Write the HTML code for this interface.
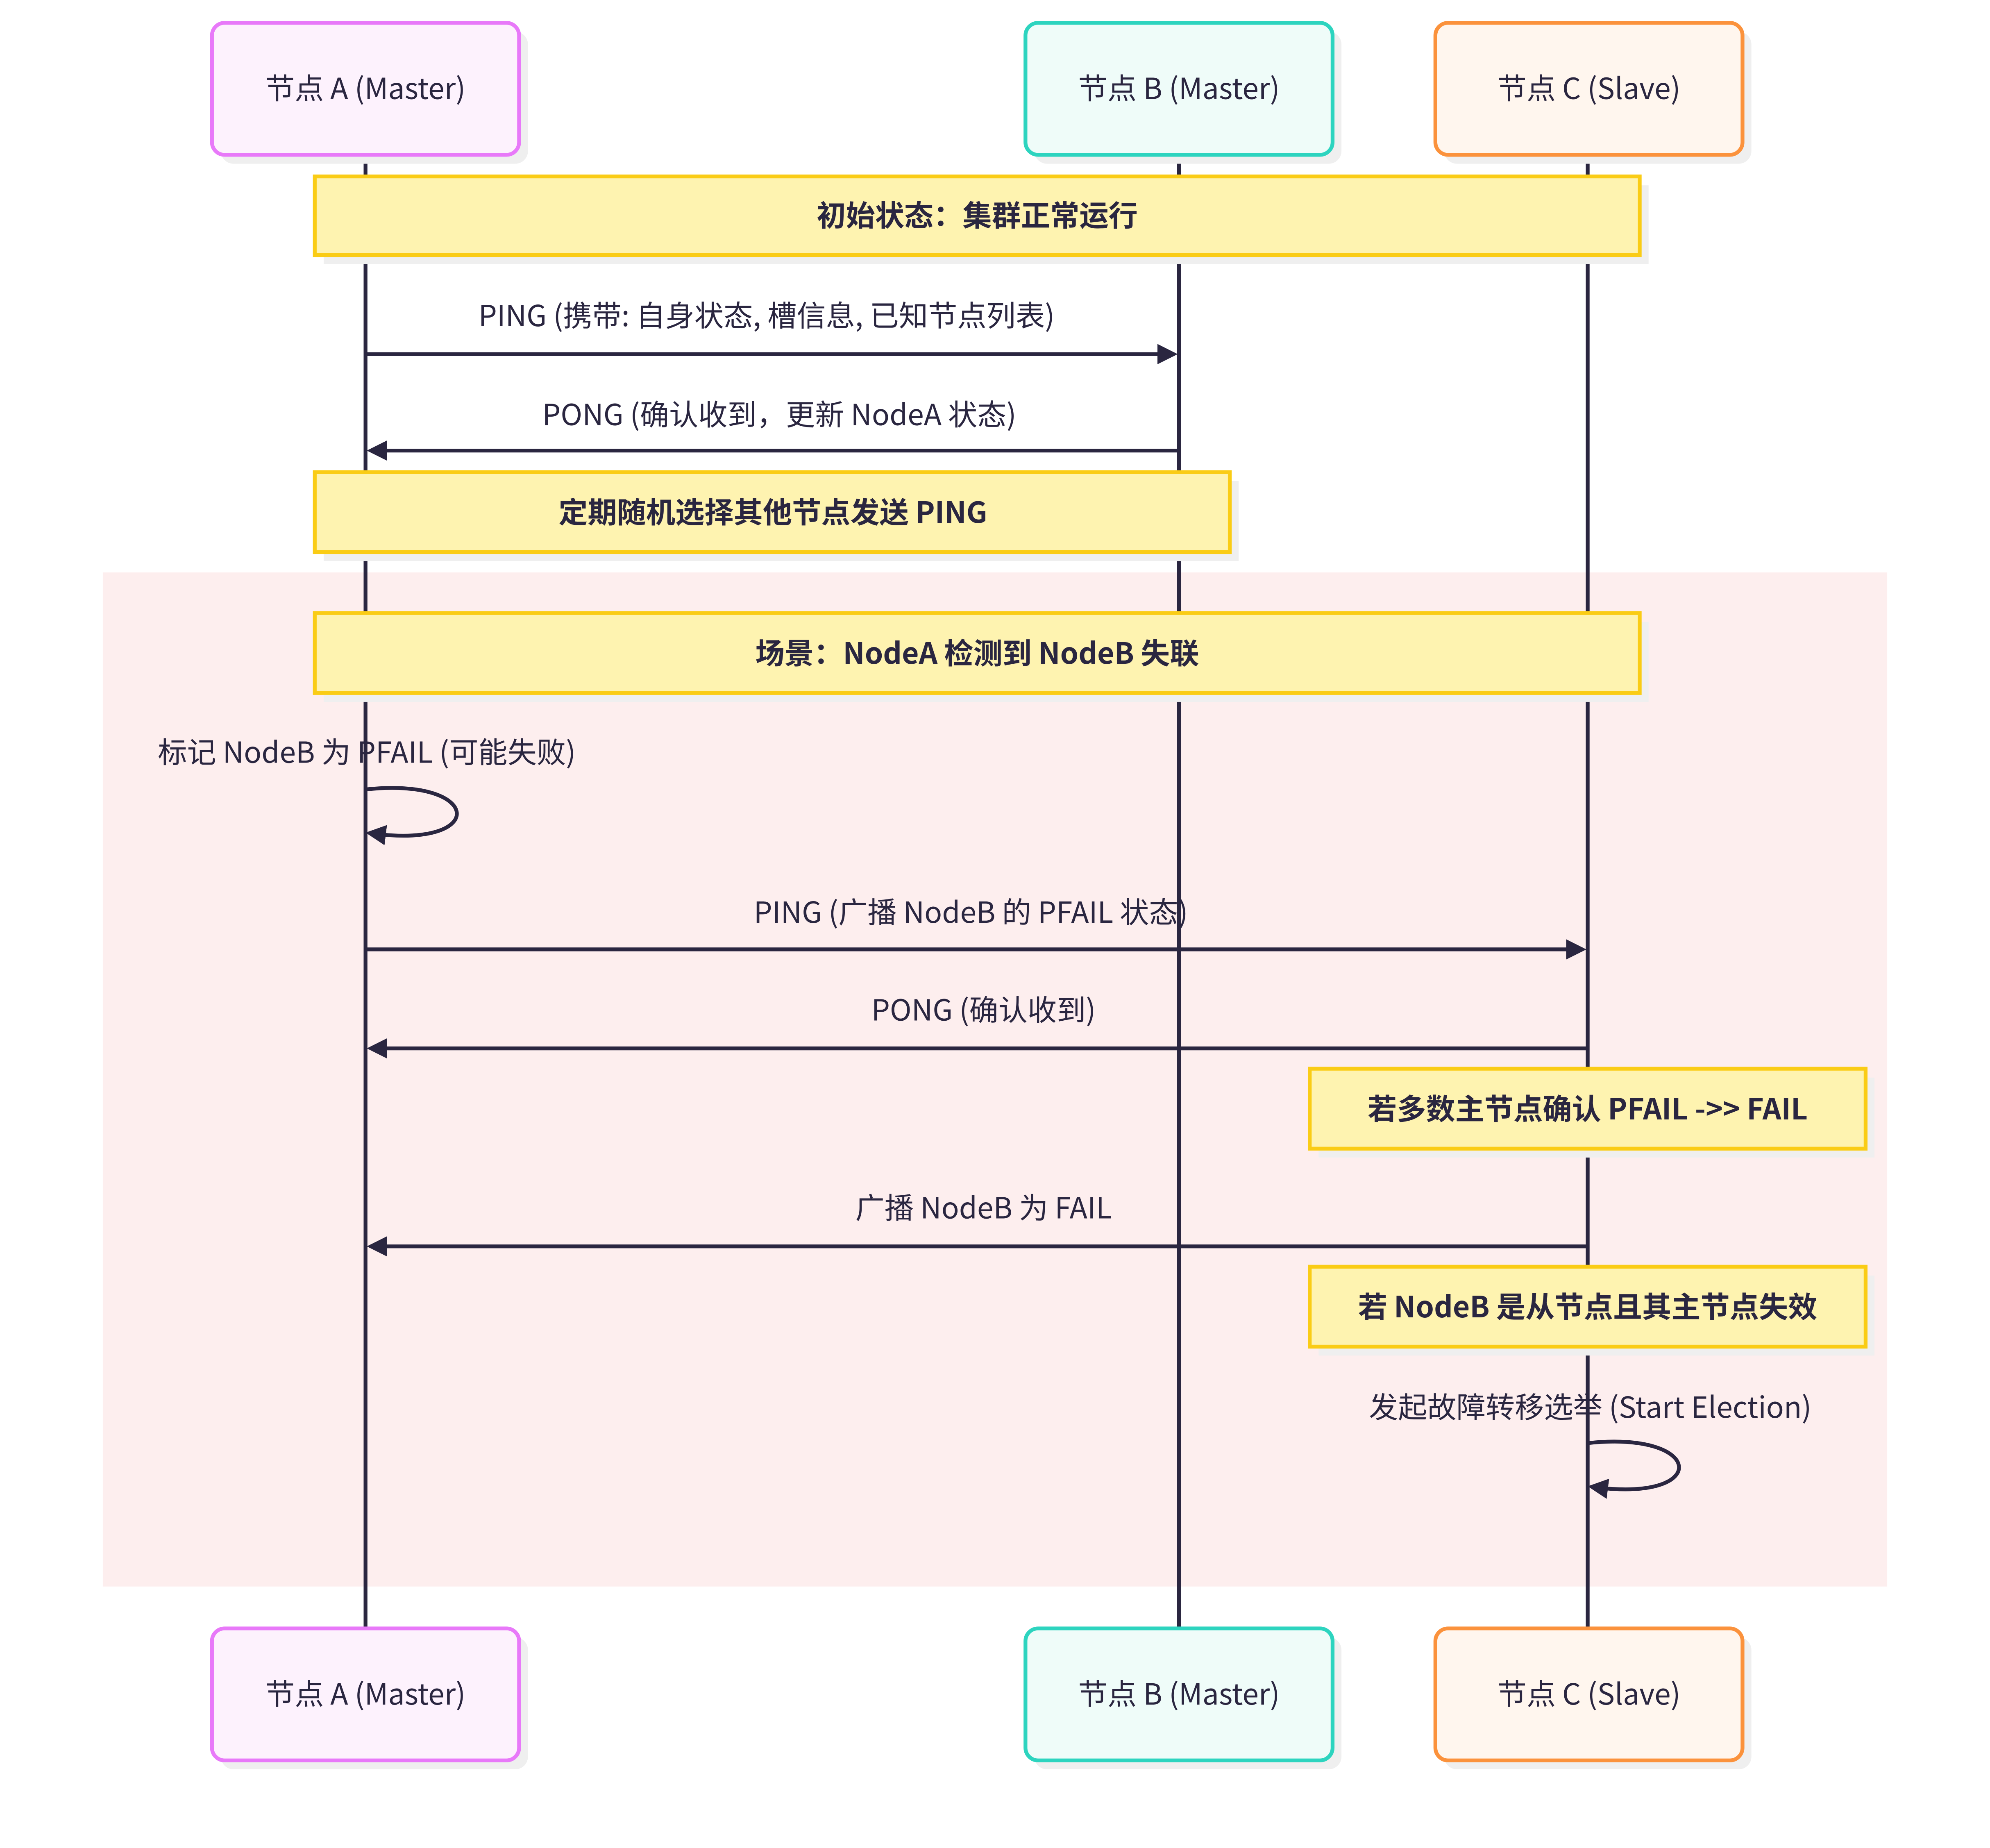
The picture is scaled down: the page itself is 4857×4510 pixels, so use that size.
<!DOCTYPE html>
<html><head><meta charset="utf-8"><style>html,body{margin:0;padding:0;background:#fff}svg{display:block}</style></head><body>
<svg xmlns="http://www.w3.org/2000/svg" width="4857" height="4510" viewBox="0 0 1568 1456" font-family="'Noto Sans CJK SC','Liberation Sans',sans-serif">
<defs>
<marker id="ah2" markerWidth="16" markerHeight="16" refX="8" refY="8" orient="auto" markerUnits="userSpaceOnUse" viewBox="0 0 16 16"><path d="M0,0 L16,8 L0,16 z" fill="#2a2640"/></marker></defs>
<rect x="81" y="451" width="1406" height="799" fill="#fdeeee"/>
<g stroke="#2a2640" stroke-width="3"><line x1="288" y1="122" x2="288" y2="1283"/><line x1="929" y1="122" x2="929" y2="1283"/><line x1="1251" y1="122" x2="1251" y2="1283"/></g>
<g font-size="23" fill="#2a2640" text-anchor="middle">
<g>
<rect x="174" y="25" width="242" height="104" rx="10" fill="#efefef"/><rect x="167" y="18" width="242" height="104" rx="10" fill="#fdf2fd" stroke="#e879f9" stroke-width="3"/><text x="288" y="78">节点 A (Master)</text>
<rect x="815" y="25" width="242" height="104" rx="10" fill="#efefef"/><rect x="808" y="18" width="242" height="104" rx="10" fill="#effcf9" stroke="#2dd4bf" stroke-width="3"/><text x="929" y="78">节点 B (Master)</text>
<rect x="1138" y="25" width="242" height="104" rx="10" fill="#efefef"/><rect x="1131" y="18" width="242" height="104" rx="10" fill="#fff6ee" stroke="#fb923c" stroke-width="3"/><text x="1252" y="78">节点 C (Slave)</text>
<rect x="174" y="1290" width="242" height="104" rx="10" fill="#efefef"/><rect x="167" y="1283" width="242" height="104" rx="10" fill="#fdf2fd" stroke="#e879f9" stroke-width="3"/><text x="288" y="1343">节点 A (Master)</text>
<rect x="815" y="1290" width="242" height="104" rx="10" fill="#efefef"/><rect x="808" y="1283" width="242" height="104" rx="10" fill="#effcf9" stroke="#2dd4bf" stroke-width="3"/><text x="929" y="1343">节点 B (Master)</text>
<rect x="1138" y="1290" width="242" height="104" rx="10" fill="#efefef"/><rect x="1131" y="1283" width="242" height="104" rx="10" fill="#fff6ee" stroke="#fb923c" stroke-width="3"/><text x="1252" y="1343">节点 C (Slave)</text>
</g>
<g font-weight="bold">
<rect x="255" y="146" width="1044" height="62" fill="#efefef"/><rect x="248" y="139" width="1044" height="62" fill="#fef3b0" stroke="#facc15" stroke-width="3"/><text x="770" y="178">初始状态：集群正常运行</text>
<rect x="255" y="379" width="721" height="63" fill="#efefef"/><rect x="248" y="372" width="721" height="63" fill="#fef3b0" stroke="#facc15" stroke-width="3"/><text x="609" y="412">定期随机选择其他节点发送 PING</text>
<rect x="255" y="490" width="1044" height="63" fill="#efefef"/><rect x="248" y="483" width="1044" height="63" fill="#fef3b0" stroke="#facc15" stroke-width="3"/><text x="770" y="523">场景：NodeA 检测到 NodeB 失联</text>
<rect x="1039" y="849" width="438" height="63" fill="#efefef"/><rect x="1032" y="842" width="438" height="63" fill="#fef3b0" stroke="#facc15" stroke-width="3"/><text x="1251" y="882">若多数主节点确认 PFAIL -&gt;&gt; FAIL</text>
<rect x="1039" y="1005" width="438" height="63" fill="#efefef"/><rect x="1032" y="998" width="438" height="63" fill="#fef3b0" stroke="#facc15" stroke-width="3"/><text x="1251" y="1038">若 NodeB 是从节点且其主节点失效</text>
</g>
<text x="604" y="257">PING (携带: 自身状态, 槽信息, 已知节点列表)</text>
<text x="614" y="335">PONG (确认收到，更新 NodeA 状态)</text>
<text x="289" y="601">标记 NodeB 为 PFAIL (可能失败)</text>
<text x="765" y="727">PING (广播 NodeB 的 PFAIL 状态)</text>
<text x="775" y="804">PONG (确认收到)</text>
<text x="775" y="960">广播 NodeB 为 FAIL</text>
<text x="1253" y="1117">发起故障转移选举 (Start Election)</text>
</g>
<g stroke="#2a2640" stroke-width="3" fill="none">
<line x1="288" y1="279" x2="920" y2="279" marker-end="url(#ah2)"/>
<line x1="929" y1="355" x2="297" y2="355" marker-end="url(#ah2)"/>
<line x1="288" y1="748" x2="1242" y2="748" marker-end="url(#ah2)"/>
<line x1="1251" y1="826" x2="297" y2="826" marker-end="url(#ah2)"/>
<line x1="1251" y1="982" x2="297" y2="982" marker-end="url(#ah2)"/>
<path d="M288,622 C380,612 385,668 296,657" marker-end="url(#ah2)"/>
<path d="M1251,1137 C1343,1127 1348,1183 1259,1172" marker-end="url(#ah2)"/>
</g>
</svg>
</body></html>
